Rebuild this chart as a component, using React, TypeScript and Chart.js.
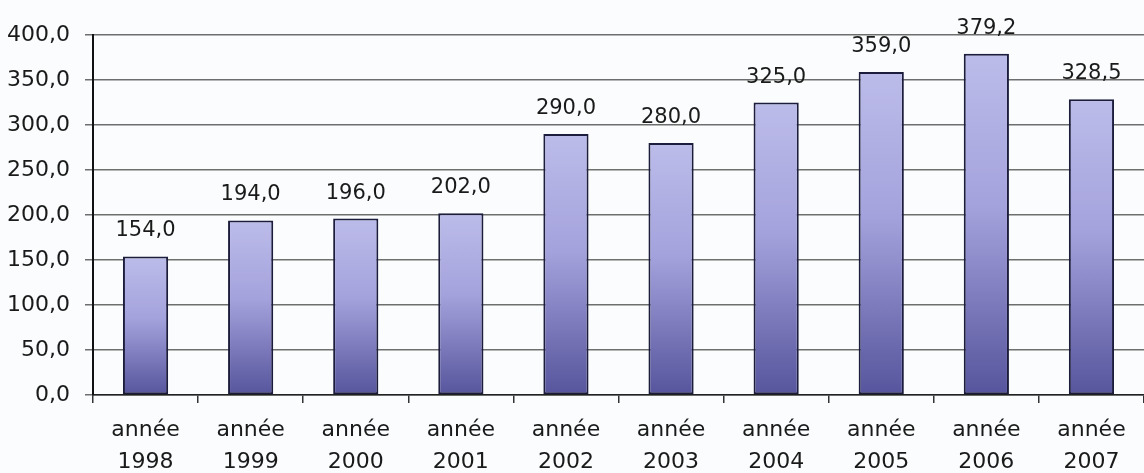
import React, { useEffect, useRef } from "react";
import { Chart, registerables } from "chart.js";

Chart.register(...registerables);

const years = ["1998", "1999", "2000", "2001", "2002", "2003", "2004", "2005", "2006", "2007"];
const categoryLabels = years.map((y) => ["année", y]);
const values = [154.0, 194.0, 196.0, 202.0, 290.0, 280.0, 325.0, 359.0, 379.2, 328.5];
const yMin = 0;
const yMax = 400;
const yStep = 50;

const fmt = (v: number) => v.toFixed(1).replace(".", ",");
const FONT = "'DejaVu Sans', 'Liberation Sans', Arial, sans-serif";

const dataLabelPlugin = {
  id: "dataLabels",
  afterDatasetsDraw(chart: any) {
    const ctx = chart.ctx;
    const meta = chart.getDatasetMeta(0);
    ctx.save();
    ctx.font = `21px ${FONT}`;
    ctx.fillStyle = "#1a1a1a";
    ctx.textAlign = "center";
    ctx.textBaseline = "alphabetic";
    meta.data.forEach((bar: any, i: number) => {
      ctx.fillText(fmt(values[i]), bar.x, bar.y - 20);
    });
    ctx.restore();
  },
};

export default function App() {
  const ref = useRef<HTMLCanvasElement | null>(null);
  useEffect(() => {
    if (!ref.current) return;
    const chart = new Chart(ref.current, {
      type: "bar",
      data: {
        labels: categoryLabels,
        datasets: [
          {
            data: values,
            backgroundColor: (c: any) => {
              const ch = c.chart;
              const ys = ch.scales?.y;
              if (!ys || !ch.chartArea) return "#9c9ad6";
              const top = ys.getPixelForValue(c.raw ?? 0);
              const bottom = ys.getPixelForValue(0);
              if (!isFinite(top) || !isFinite(bottom) || top === bottom) return "#9c9ad6";
              const g = ch.ctx.createLinearGradient(0, top, 0, bottom);
              g.addColorStop(0, "#bcbcea");
              g.addColorStop(0.45, "#a4a2dc");
              g.addColorStop(1, "#56549c");
              return g;
            },
            borderColor: "#1c1c3c",
            borderWidth: 2,
            borderSkipped: false,
            barPercentage: 0.43,
            categoryPercentage: 1,
          },
        ],
      },
      options: {
        responsive: true,
        maintainAspectRatio: false,
        animation: false,
        layout: { padding: { top: 35, right: -4, left: 0, bottom: 0 } },
        plugins: {
          legend: { display: false },
          tooltip: { enabled: false },
          title: { display: false },
        },
        scales: {
          x: {
            offset: true,
            grid: {
              offset: true,
              drawOnChartArea: false,
              drawTicks: true,
              tickLength: 8,
              color: "#333333",
              lineWidth: 1.5,
            },
            border: { color: "#222222", width: 1.5 },
            ticks: {
              color: "#1a1a1a",
              font: { family: FONT, size: 22, lineHeight: 1.45 },
              padding: 11,
              maxRotation: 0,
              autoSkip: false,
            },
            afterFit: (s: any) => {
              s.height = 78;
            },
          },
          y: {
            min: yMin,
            max: yMax,
            ticks: {
              stepSize: yStep,
              color: "#1a1a1a",
              font: { family: FONT, size: 22 },
              padding: 15,
              callback: (v: any) => fmt(Number(v)),
            },
            grid: {
              color: "#6e6e6e",
              lineWidth: 1.5,
              drawTicks: true,
              tickLength: 8,
            },
            border: { color: "#111111", width: 2 },
            afterFit: (s: any) => {
              s.width = 93;
            },
          },
        },
      },
      plugins: [dataLabelPlugin],
    });
    return () => chart.destroy();
  }, []);
  return (
    <div
      style={{
        position: "fixed",
        left: 0,
        top: 0,
        width: 1144,
        height: 473,
        background: "#fafcfd",
      }}
    >
      <canvas ref={ref} />
    </div>
  );
}
